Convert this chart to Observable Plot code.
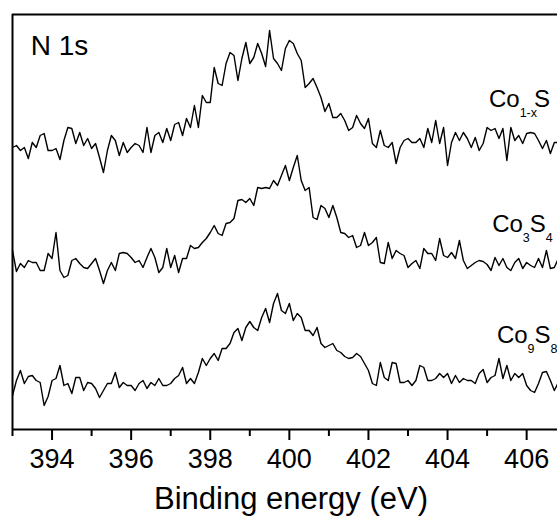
<!DOCTYPE html>
<html><head><meta charset="utf-8">
<script src="https://cdn.jsdelivr.net/npm/d3@7"></script>
<script src="https://cdn.jsdelivr.net/npm/@observablehq/plot@0.6"></script>
<style>body{margin:0;background:#fff} svg{display:block}</style>
</head><body><div id="chart"></div>
<script>
// Binding energy grid (eV)
const energyStart = 393.0;
const energyStep = 0.1;

// Intensities (a.u., stacked/offset as in the figure)
const co1xS = [282,284,279,282,271,287,282,294,296,279,
 279,281,270,289,302,301,286,297,284,291,
 281,286,272,257,279,294,289,274,287,277,
 282,286,284,277,302,277,294,297,287,301,
 289,305,307,294,311,302,324,302,334,327,
 327,362,346,344,366,377,374,349,371,387,
 366,372,386,376,363,399,371,366,359,381,
 389,386,376,369,342,346,351,342,332,318,
 326,312,312,316,309,299,302,314,306,301,
 311,286,282,299,284,282,287,266,282,289,
 291,287,287,291,282,301,287,309,286,302,
 264,287,297,289,297,291,282,292,279,286,
 302,299,301,291,301,269,302,289,294,286,
 296,297,296,289,281,289,276,287,287];

const co3S4 = [179,158,166,162,169,167,167,159,159,176,
 171,197,159,152,154,169,171,166,162,161,
 166,171,159,146,159,167,159,176,177,176,
 172,167,169,162,172,181,172,157,162,181,
 162,174,157,171,171,184,181,182,187,191,
 197,204,196,194,206,207,211,229,230,227,
 231,224,242,241,242,241,249,244,254,264,
 249,262,274,249,239,242,212,210,224,221,
 212,224,212,197,196,192,194,182,184,197,
 184,187,192,167,166,187,171,179,176,174,
 162,166,169,161,181,176,176,169,191,174,
 172,177,171,189,169,161,164,167,169,168,
 165,159,172,164,171,162,159,167,171,161,
 167,164,162,171,162,179,161,162,171];

const co9S8 = [34,49,59,46,53,54,49,47,24,33,
 49,51,64,44,46,36,52,52,39,47,
 46,41,32,39,46,46,57,42,47,44,
 44,39,46,49,41,47,44,51,44,44,
 46,51,54,62,46,51,46,57,71,64,
 71,76,69,81,81,86,97,101,89,102,
 108,102,99,112,121,107,126,136,119,116,
 126,109,116,112,99,99,94,102,86,82,
 84,86,79,77,73,71,72,76,73,66,
 59,46,44,67,52,49,67,66,47,47,
 49,44,49,64,62,49,49,51,56,52,
 56,46,54,47,51,49,49,46,56,60,
 47,52,54,71,51,64,49,56,52,56,
 44,39,37,46,57,58,49,39,47];

const majorTicks = [394, 396, 398, 400, 402, 404, 406];
const minorTicks = [393, 395, 397, 399, 401, 403, 405];
const xLabel = "Binding energy (eV)";
const panelLabel = "N 1s";

// series labels: [text, isSubscript, dx before] pieces, anchored in data coords
const seriesLabels = [
  {parts: [["Co", 0, 0], ["1-x", 1, 0], ["S", 0, -3]], x: 405.06, y: 322},
  {parts: [["Co", 0, 0], ["3", 1, 0], ["S", 0, 0], ["4", 1, 0]], x: 405.14, y: 197},
  {parts: [["Co", 0, 0], ["9", 1, 0], ["S", 0, 0], ["8", 1, 0]], x: 405.26, y: 86}
];

const series = [
  {name: "Co1-xS", values: co1xS},
  {name: "Co3S4", values: co3S4},
  {name: "Co9S8", values: co9S8}
];
const rows = series.flatMap(s => s.values.map((v, i) => ({
  series: s.name,
  energy: +(energyStart + i * energyStep).toFixed(1),
  intensity: v
})));

const font = "Arial, 'Liberation Sans', sans-serif";

const plot = Plot.plot({
  width: 557, height: 516,
  marginLeft: 12, marginRight: 0, marginTop: 14, marginBottom: 87,
  style: {fontFamily: font, background: "white", color: "black"},
  x: {domain: [393, 406.78], label: null},
  y: {domain: [0, 415], axis: null},
  marks: [
    Plot.line(rows, {x: "energy", y: "intensity", z: "series", stroke: "black", strokeWidth: 1.4}),
    Plot.ruleY([0], {strokeWidth: 2}),
    Plot.ruleY([415], {strokeWidth: 2}),
    Plot.ruleX([393], {strokeWidth: 2}),
    Plot.axisX({ticks: majorTicks, label: null, tickSize: 11, tickPadding: 8, fontSize: 27, strokeWidth: 2, tickFormat: d => String(d)}),
    Plot.axisX({ticks: minorTicks, label: null, tickSize: 7, text: null, strokeWidth: 2}),
    Plot.text([xLabel], {frameAnchor: "bottom", dx: 6, dy: 79, lineAnchor: "bottom", fontSize: 31}),
    Plot.text([panelLabel], {x: () => 393.46, y: () => 375, textAnchor: "start", lineAnchor: "bottom", fontSize: 28})
  ]
});

// series labels with subscripts, positioned through the plot's scales
const sx = plot.scale("x"), sy = plot.scale("y");
const svg = d3.select(plot);
for (const lab of seriesLabels) {
  const t = svg.append("text")
    .attr("x", sx.apply(lab.x))
    .attr("y", sy.apply(lab.y))
    .attr("text-anchor", "start")
    .attr("font-family", font)
    .attr("font-size", 24)
    .attr("fill", "black");
  let prevSub = 0;
  lab.parts.forEach(([txt, sub, dx]) => {
    const ts = t.append("tspan").text(txt);
    if (sub) {
      ts.attr("font-size", 12.5).attr("dy", 10);
    } else {
      ts.attr("font-size", 24);
      if (prevSub) ts.attr("dy", -10);
    }
    if (dx) ts.attr("dx", dx);
    prevSub = sub;
  });
}

document.getElementById("chart").appendChild(plot);
</script>
</body></html>
